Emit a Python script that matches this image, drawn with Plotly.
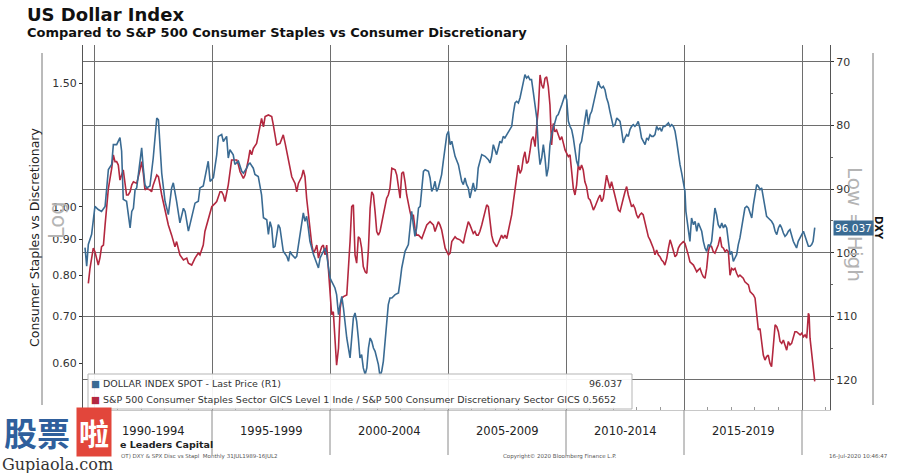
import plotly.graph_objects as go

# ---------------- data ----------------
dxy_years = [
    1989.62, 1989.69, 1989.76, 1989.90, 1990.04, 1990.18, 1990.32, 1990.47, 1990.61, 1990.75,
    1990.82, 1990.96, 1991.10, 1991.17, 1991.24, 1991.38, 1991.53, 1991.60, 1991.67, 1991.74,
    1991.81, 1991.95, 1992.02, 1992.09, 1992.16, 1992.23, 1992.37, 1992.51, 1992.66, 1992.73,
    1992.87, 1993.01, 1993.15, 1993.29, 1993.36, 1993.50, 1993.64, 1993.79, 1993.86, 1994.00,
    1994.14, 1994.28, 1994.42, 1994.49, 1994.63, 1994.77, 1994.84, 1994.92, 1995.06, 1995.20,
    1995.27, 1995.41, 1995.48, 1995.62, 1995.69, 1995.76, 1995.90, 1995.97, 1996.12, 1996.26,
    1996.33, 1996.47, 1996.54, 1996.61, 1996.75, 1996.82, 1996.96, 1997.10, 1997.18, 1997.32,
    1997.39, 1997.46, 1997.53, 1997.60,
    1997.67, 1997.81, 1997.88, 1998.02, 1998.10, 1998.17, 1998.24, 1998.31, 1998.38, 1998.52,
    1998.59, 1998.73, 1998.87, 1998.94, 1999.01, 1999.08, 1999.15, 1999.30, 1999.44, 1999.51,
    1999.58, 1999.72, 1999.79, 1999.86, 1999.93, 2000.00, 2000.07, 2000.21, 2000.28, 2000.36,
    2000.43, 2000.50, 2000.57, 2000.64, 2000.71, 2000.85, 2000.92, 2000.99, 2001.06, 2001.13,
    2001.20, 2001.27, 2001.34, 2001.41, 2001.49, 2001.56, 2001.63, 2001.70, 2001.77, 2001.84,
    2001.91, 2001.98, 2002.05, 2002.12, 2002.19, 2002.26, 2002.33, 2002.47, 2002.54, 2002.62,
    2002.76, 2002.90, 2002.97, 2003.04, 2003.18, 2003.32, 2003.39, 2003.46, 2003.53, 2003.60,
    2003.67, 2003.75, 2003.82, 2003.89, 2003.96, 2004.03, 2004.17, 2004.24, 2004.31, 2004.38,
    2004.45, 2004.52, 2004.59, 2004.66, 2004.73, 2004.80, 2004.88, 2004.95, 2005.02, 2005.09,
    2005.16, 2005.23, 2005.30, 2005.44, 2005.58, 2005.65, 2005.72,
    2005.79, 2005.86, 2005.93, 2006.00, 2006.07, 2006.14, 2006.21, 2006.28, 2006.43, 2006.57,
    2006.71, 2006.78, 2006.85, 2006.92, 2006.99, 2007.06, 2007.13, 2007.20, 2007.27, 2007.34,
    2007.41, 2007.49, 2007.56, 2007.63, 2007.70, 2007.77, 2007.84, 2007.91, 2007.98, 2008.05,
    2008.12, 2008.19, 2008.26, 2008.33, 2008.40, 2008.47, 2008.54, 2008.61, 2008.69, 2008.76,
    2008.83, 2008.90, 2008.97, 2009.04, 2009.11, 2009.18, 2009.25, 2009.32, 2009.39, 2009.46,
    2009.53, 2009.60, 2009.67, 2009.75, 2009.82, 2009.89, 2009.96, 2010.03, 2010.10, 2010.17,
    2010.24, 2010.31, 2010.38, 2010.45, 2010.52, 2010.59, 2010.66, 2010.73, 2010.80, 2010.87,
    2010.95, 2011.02, 2011.09, 2011.16, 2011.23, 2011.30, 2011.37, 2011.44, 2011.51, 2011.58,
    2011.65, 2011.72, 2011.79, 2011.86, 2011.93, 2012.00, 2012.08, 2012.15, 2012.22, 2012.29,
    2012.36, 2012.43, 2012.50, 2012.57, 2012.64, 2012.71, 2012.78, 2012.85, 2012.92, 2012.99,
    2013.06, 2013.13, 2013.20, 2013.27, 2013.35, 2013.42, 2013.49, 2013.56, 2013.63, 2013.70,
    2013.77,
    2013.84, 2013.91, 2013.98, 2014.05, 2014.12, 2014.19, 2014.27, 2014.34, 2014.41, 2014.48,
    2014.55, 2014.62, 2014.69, 2014.76, 2014.83, 2014.90, 2014.97, 2015.04, 2015.08, 2015.14,
    2015.18, 2015.25, 2015.32, 2015.40, 2015.47, 2015.54, 2015.61, 2015.68, 2015.75, 2015.82,
    2015.89, 2015.96, 2016.03, 2016.10, 2016.17, 2016.24, 2016.31, 2016.38, 2016.45, 2016.53,
    2016.60, 2016.67, 2016.74, 2016.81, 2016.88, 2016.95, 2017.02, 2017.09, 2017.16, 2017.23,
    2017.30, 2017.37, 2017.44, 2017.51, 2017.58, 2017.66, 2017.73, 2017.80, 2017.87, 2017.94,
    2018.01, 2018.08, 2018.15, 2018.22, 2018.29, 2018.36, 2018.43, 2018.50, 2018.57, 2018.64,
    2018.71, 2018.79, 2018.86, 2018.93, 2019.00, 2019.07, 2019.14, 2019.21, 2019.28, 2019.35,
    2019.42, 2019.49, 2019.56, 2019.63, 2019.70, 2019.77, 2019.84, 2019.92, 2019.99, 2020.06,
    2020.13, 2020.20, 2020.27, 2020.34, 2020.41, 2020.47, 2020.51, 2020.54,
]
dxy_values = [
    99.2, 102.1, 98.7, 97.1, 92.7, 93.2, 93.5, 92.7, 86.9, 86.1,
    83.0, 83.0, 81.9, 84.0, 91.6, 91.9, 96.1, 93.5, 93.0, 90.1,
    89.8, 86.1, 83.5, 86.7, 89.3, 89.8, 89.5, 85.1, 78.8, 79.1,
    87.5, 91.9, 94.0, 89.8, 89.0, 91.9, 95.3, 93.0, 93.5, 96.6,
    94.5, 92.2, 91.9, 89.8, 89.5, 86.7, 85.6, 88.8, 88.2, 84.6,
    81.7, 81.4, 82.5, 81.7, 85.1, 83.8, 84.6, 86.1, 85.6, 87.2,
    87.5, 86.7, 86.1, 85.9, 86.7, 87.7, 88.0, 90.9, 94.5, 94.8,
    97.1, 95.1, 96.1, 99.2,
    98.98, 95.58, 96.10, 99.77, 100.29, 100.56, 101.34, 99.77, 100.29, 100.82,
    100.56, 97.15, 93.74, 95.05, 94.27, 96.10, 98.20, 100.29, 101.60, 102.39,
    100.82, 99.77, 99.25, 100.29, 102.39, 103.96, 104.49, 105.53, 106.58, 109.73,
    108.16, 106.84, 108.68, 110.78, 113.40, 116.54, 113.40, 110.25, 109.47, 110.78,
    113.40, 116.54, 116.02, 118.11, 119.16, 118.11, 114.97, 113.40, 113.92, 114.97,
    115.49, 116.54, 117.59, 119.42, 118.64, 117.06, 114.44, 108.16, 107.11, 107.11,
    106.58, 106.32, 104.49, 102.39, 99.77, 98.72, 96.10, 93.48, 95.58, 97.41,
    96.10, 92.96, 92.69, 90.34, 87.19, 86.93, 87.19, 88.24, 90.34, 89.81,
    88.76, 90.34, 89.81, 88.76, 87.71, 85.62, 83.52, 81.43, 80.90, 83.00,
    82.47, 83.52, 84.83, 86.14, 88.76, 89.29, 88.24,
    89.29, 89.81, 91.38, 90.34, 89.03, 90.34, 89.81, 86.67, 84.57, 84.83,
    85.36, 85.88, 84.83, 83.00, 83.78, 84.57, 83.52, 82.47, 82.74, 81.69,
    81.95, 81.43, 80.90, 80.64, 80.12, 78.02, 76.45, 76.18, 76.45, 75.66,
    74.35, 73.30, 71.99, 72.52, 72.25, 72.78, 72.78, 74.61, 76.71, 78.81,
    83.52, 86.14, 85.09, 83.00, 85.09, 87.98, 86.67, 83.00, 81.43, 80.38,
    79.33, 78.54, 78.28, 77.23, 76.71, 75.92, 75.14, 75.92, 79.33, 80.12,
    80.64, 81.95, 83.52, 85.62, 86.40, 83.00, 82.47, 80.90, 79.33, 77.50,
    79.85, 78.28, 77.76, 76.45, 75.14, 74.35, 73.04, 73.83, 74.09, 73.83,
    74.35, 75.66, 76.45, 77.76, 78.81, 80.12, 79.85, 78.81, 79.07, 79.33,
    80.90, 82.74, 81.95, 81.43, 81.69, 80.64, 80.12, 79.85, 80.12, 79.85,
    79.33, 80.38, 81.95, 82.47, 83.00, 81.95, 82.21, 81.43, 81.69, 81.69,
    81.43,
    80.12, 80.64, 80.38, 80.90, 80.12, 80.12, 79.85, 79.59, 80.12, 79.85,
    80.12, 80.90, 82.47, 84.57, 86.14, 87.45, 89.03, 90.34, 93.48, 95.05,
    96.10, 98.20, 94.53, 95.58, 95.05, 96.62, 95.31, 96.10, 96.62, 98.20,
    99.25, 99.77, 98.72, 98.98, 98.20, 95.58, 92.96, 94.00, 95.58, 96.10,
    95.31, 96.10, 95.58, 96.10, 98.20, 100.29, 99.77, 101.34, 100.82, 100.29,
    98.72, 97.67, 96.10, 94.53, 92.96, 92.69, 92.96, 93.74, 94.53, 92.43,
    90.86, 89.29, 89.55, 90.07, 89.81, 91.38, 92.96, 94.27, 94.53, 94.79,
    95.05, 95.58, 96.62, 97.15, 96.10, 95.58, 96.10, 96.89, 97.41, 97.15,
    96.62, 96.36, 97.41, 98.20, 98.72, 99.25, 98.20, 97.67, 97.15, 96.62,
    97.41, 98.20, 98.98, 98.98, 98.72, 98.20, 97.15, 96.037,
]

ratio_years = [
    1989.76, 1989.83, 1989.97, 1990.04, 1990.18, 1990.25, 1990.32, 1990.40, 1990.47, 1990.61,
    1990.75, 1990.82, 1990.89, 1990.96, 1991.03, 1991.10, 1991.17, 1991.24, 1991.38, 1991.45,
    1991.53, 1991.60, 1991.67, 1991.81, 1991.95, 1992.02, 1992.09, 1992.16, 1992.23, 1992.37,
    1992.44, 1992.51, 1992.66, 1992.73, 1992.87, 1993.01, 1993.15, 1993.29, 1993.43, 1993.50,
    1993.64, 1993.79, 1993.93, 1994.00, 1994.14, 1994.28, 1994.35, 1994.42, 1994.49, 1994.63,
    1994.70, 1994.84, 1994.99, 1995.13, 1995.20, 1995.34, 1995.41, 1995.48, 1995.55, 1995.69,
    1995.83, 1995.90, 1996.05, 1996.12, 1996.19, 1996.33, 1996.40, 1996.54, 1996.61, 1996.68,
    1996.75, 1996.89, 1996.96, 1997.10, 1997.18, 1997.25, 1997.39, 1997.53, 1997.60,
    1997.74, 1997.88, 1998.02, 1998.10, 1998.24, 1998.38, 1998.52, 1998.59, 1998.66, 1998.80,
    1998.87, 1998.94, 1999.01, 1999.08, 1999.15, 1999.23, 1999.30, 1999.37, 1999.44, 1999.51,
    1999.58, 1999.65, 1999.72, 1999.79, 1999.86, 1999.93, 2000.00, 2000.07, 2000.14, 2000.21,
    2000.28, 2000.36, 2000.43, 2000.50, 2000.57, 2000.71, 2000.78, 2000.85, 2000.92, 2000.99,
    2001.06, 2001.13, 2001.20, 2001.27, 2001.34, 2001.41, 2001.49, 2001.56, 2001.63, 2001.70,
    2001.77, 2001.84, 2001.91, 2001.98, 2002.05, 2002.12, 2002.26, 2002.40, 2002.47, 2002.54,
    2002.62, 2002.76, 2002.83, 2002.90, 2002.97, 2003.04, 2003.11, 2003.18, 2003.25, 2003.39,
    2003.46, 2003.53, 2003.60, 2003.67, 2003.75, 2003.89, 2003.96, 2004.10, 2004.24, 2004.38,
    2004.45, 2004.59, 2004.66, 2004.73, 2004.88, 2005.02, 2005.09, 2005.16, 2005.30, 2005.37,
    2005.51, 2005.65, 2005.72,
    2005.79, 2005.86, 2005.93, 2006.00, 2006.07, 2006.14, 2006.21, 2006.28, 2006.35, 2006.43,
    2006.50, 2006.57, 2006.64, 2006.71, 2006.78, 2006.85, 2006.92, 2006.99, 2007.06, 2007.13,
    2007.20, 2007.27, 2007.34, 2007.41, 2007.49, 2007.56, 2007.63, 2007.70, 2007.77, 2007.84,
    2007.91, 2007.98, 2008.05, 2008.12, 2008.19, 2008.26, 2008.33, 2008.40, 2008.47, 2008.54,
    2008.61, 2008.69, 2008.76, 2008.83, 2008.90, 2008.97, 2009.04, 2009.11, 2009.18, 2009.25,
    2009.32, 2009.39, 2009.46, 2009.53, 2009.60, 2009.67, 2009.75, 2009.82, 2009.89, 2009.96,
    2010.03, 2010.10, 2010.17, 2010.24, 2010.31, 2010.38, 2010.45, 2010.52, 2010.59, 2010.66,
    2010.73, 2010.80, 2010.87, 2010.95, 2011.02, 2011.09, 2011.16, 2011.23, 2011.30, 2011.37,
    2011.44, 2011.51, 2011.58, 2011.65, 2011.72, 2011.79, 2011.86, 2011.93, 2012.00, 2012.08,
    2012.15, 2012.22, 2012.29, 2012.36, 2012.43, 2012.50, 2012.57, 2012.64, 2012.71, 2012.78,
    2012.85, 2012.92, 2012.99, 2013.06, 2013.13, 2013.20, 2013.27, 2013.35, 2013.42, 2013.49,
    2013.56, 2013.63, 2013.70, 2013.77,
    2013.84, 2013.91, 2013.98, 2014.05, 2014.12, 2014.19, 2014.27, 2014.34, 2014.41, 2014.48,
    2014.55, 2014.62, 2014.69, 2014.76, 2014.83, 2014.90, 2014.97, 2015.04, 2015.11, 2015.18,
    2015.25, 2015.32, 2015.40, 2015.47, 2015.54, 2015.61, 2015.68, 2015.75, 2015.82, 2015.89,
    2015.96, 2016.03, 2016.10, 2016.17, 2016.24, 2016.31, 2016.38, 2016.45, 2016.53, 2016.60,
    2016.67, 2016.74, 2016.81, 2016.88, 2016.95, 2017.02, 2017.09, 2017.16, 2017.23, 2017.30,
    2017.37, 2017.44, 2017.51, 2017.58, 2017.66, 2017.73, 2017.80, 2017.87, 2017.94, 2018.01,
    2018.08, 2018.15, 2018.22, 2018.29, 2018.36, 2018.43, 2018.50, 2018.57, 2018.64, 2018.71,
    2018.79, 2018.86, 2018.93, 2019.00, 2019.07, 2019.14, 2019.21, 2019.28, 2019.35, 2019.42,
    2019.49, 2019.56, 2019.63, 2019.70, 2019.77, 2019.84, 2019.92, 2019.99, 2020.06, 2020.13,
    2020.20, 2020.27, 2020.30, 2020.34, 2020.41, 2020.46, 2020.50, 2020.54,
]
ratio_values = [
    0.779, 0.818, 0.874, 0.864, 0.827, 0.846, 0.878, 0.883, 0.943, 1.063,
    1.135, 1.186, 1.160, 1.160, 1.147, 1.092, 1.110, 1.129, 1.040, 1.040,
    1.051, 1.075, 1.086, 1.080, 1.129, 1.160, 1.116, 1.057, 1.063, 1.057,
    1.051, 1.075, 1.110, 1.104, 1.040, 0.985, 0.943, 0.912, 0.878, 0.893,
    0.855, 0.841, 0.846, 0.832, 0.827, 0.846, 0.855, 0.860, 0.855, 0.883,
    0.923, 0.958, 1.001, 1.012, 1.018, 1.051, 1.051, 1.040, 1.018, 1.075,
    1.166, 1.166, 1.166, 1.147, 1.122, 1.098, 1.110, 1.166, 1.205, 1.186,
    1.211, 1.231, 1.266, 1.336, 1.300, 1.344, 1.351, 1.344, 1.307,
    1.225, 1.231, 1.266, 1.231, 1.172, 1.104, 1.080, 1.051, 1.080, 1.104,
    1.129, 1.104, 1.029, 0.975, 0.923, 0.883, 0.860, 0.869, 0.883, 0.846,
    0.864, 0.878, 0.883, 0.855, 0.883, 0.823, 0.766, 0.703, 0.710, 0.658,
    0.596, 0.630, 0.718, 0.742, 0.746, 0.750, 0.809, 0.893, 1.001, 1.007,
    0.855, 0.832, 0.907, 0.902, 0.874, 0.823, 0.809, 0.805, 0.874, 0.996,
    1.051, 1.040, 0.985, 0.923, 0.912, 0.923, 0.975, 1.029, 1.040, 1.063,
    1.135, 1.129, 1.110, 1.069, 1.029, 1.116, 1.122, 1.086, 1.040, 0.985,
    0.964, 0.975, 0.933, 0.912, 0.912, 0.902, 0.917, 0.943, 0.953, 0.943,
    0.923, 0.953, 0.943, 0.928, 0.874, 0.855, 0.860, 0.893, 0.907, 0.902,
    0.898, 0.888, 0.912,
    0.938, 0.953, 0.943, 0.928, 0.917, 0.923, 0.912, 0.912, 0.923, 0.943,
    0.964, 0.985, 1.007, 1.001, 0.953, 0.912, 0.893, 0.883, 0.878, 0.888,
    0.902, 0.912, 0.902, 0.912, 0.902, 0.923, 0.943, 0.975, 1.018, 1.063,
    1.098, 1.147, 1.116, 1.129, 1.172, 1.198, 1.153, 1.160, 1.198, 1.245,
    1.259, 1.218, 1.307, 1.381, 1.540, 1.490, 1.474, 1.523, 1.531, 1.482,
    1.396, 1.225, 1.314, 1.279, 1.286, 1.266, 1.245, 1.259, 1.225, 1.205,
    1.192, 1.179, 1.186, 1.122, 1.063, 1.040, 1.075, 1.147, 1.129, 1.147,
    1.129, 1.086, 1.069, 1.029, 1.023, 1.007, 0.990, 1.001, 1.018, 1.029,
    1.040, 1.018, 1.029, 1.069, 1.110, 1.086, 1.063, 1.086, 1.063, 1.029,
    1.007, 0.990, 0.985, 1.012, 1.029, 1.051, 1.069, 1.040, 1.018, 1.001,
    1.007, 0.996, 0.975, 0.964, 0.975, 0.980, 0.975, 0.948, 0.923, 0.907,
    0.898, 0.888, 0.874, 0.855,
    0.869, 0.855, 0.850, 0.841, 0.836, 0.827, 0.846, 0.874, 0.898, 0.883,
    0.864, 0.850, 0.855, 0.874, 0.883, 0.888, 0.893, 0.888, 0.874, 0.855,
    0.836, 0.832, 0.827, 0.818, 0.809, 0.814, 0.818, 0.805, 0.796, 0.792,
    0.818, 0.864, 0.883, 0.878, 0.864, 0.860, 0.874, 0.883, 0.907, 0.878,
    0.874, 0.864, 0.869, 0.864, 0.800, 0.818, 0.814, 0.818, 0.805, 0.796,
    0.800, 0.796, 0.792, 0.783, 0.779, 0.775, 0.758, 0.754, 0.750, 0.742,
    0.702, 0.669, 0.672, 0.637, 0.616, 0.606, 0.613, 0.616, 0.600, 0.593,
    0.630, 0.680, 0.676, 0.665, 0.644, 0.640, 0.647, 0.637, 0.626, 0.644,
    0.637, 0.640, 0.651, 0.665, 0.665, 0.662, 0.658, 0.662, 0.654, 0.658,
    0.651, 0.706, 0.702, 0.651, 0.616, 0.596, 0.577, 0.5652,
]

left_tick_values = [0.60, 0.70, 0.80, 0.90, 1.00, 1.50]
left_tick_labels = ["0.60", "0.70", "0.80", "0.90", "1.00", "1.50"]
right_tick_values = [70, 80, 90, 100, 110, 120]
period_labels = ["1990-1994", "1995-1999", "2000-2004", "2005-2009", "2010-2014", "2015-2019"]
period_starts = [1990, 1995, 2000, 2005, 2010, 2015]
period_bounds = [1990, 1995, 2000, 2005, 2010, 2015, 2020]

dxy_name = "DOLLAR INDEX SPOT - Last Price (R1)"
ratio_name = ("S&P 500 Consumer Staples Sector GICS Level 1 Inde / "
              "S&P 500 Consumer Discretionary Sector GICS")

# ---------------- styling / geometry ----------------
W, H = 908, 473
L, R, T, B = 83, 830, 45, 410          # plot area in pixels
BLUE = "#3a6b93"
RED = "#b3283f"
GRID = "#6e6e6e"
FONT = "DejaVu Sans"


def px(x):
    return (x - L) / (R - L)


def py(y):
    return (B - y) / (B - T)


def note(text, x, y, size, color="#222", family=FONT, xanchor="center", angle=0, **kw):
    return dict(text=text, x=px(x), y=py(y), xref="paper", yref="paper", xanchor=xanchor,
                yanchor="middle", textangle=angle, showarrow=False,
                font=dict(size=size, color=color, family=family), **kw)


fig = go.Figure()
fig.add_trace(go.Scatter(x=ratio_years, y=ratio_values, mode="lines", name=ratio_name,
                         line=dict(color=RED, width=1.6), yaxis="y", showlegend=False))
fig.add_trace(go.Scatter(x=dxy_years, y=dxy_values, mode="lines", name=dxy_name,
                         line=dict(color=BLUE, width=1.6), yaxis="y2", showlegend=False))

fig.update_layout(
    width=W, height=H,
    margin=dict(l=L, r=W - R, t=T, b=H - B),
    paper_bgcolor="white", plot_bgcolor="white",
    font=dict(family=FONT, color="#222"),
    xaxis=dict(range=[1989.534, 2021.186], tickmode="linear", tick0=1990, dtick=5,
               showticklabels=False, ticks="", showgrid=True, gridcolor=GRID, gridwidth=1,
               zeroline=False, showline=True, linecolor="#c8c8c8",
               minor=dict(tick0=1990, dtick=1, ticks="inside", ticklen=3, tickcolor="#999")),
    yaxis=dict(type="log", range=[-0.2884, 0.2301], tickvals=left_tick_values,
               ticktext=left_tick_labels, ticks="outside", ticklen=3, tickcolor="#333",
               showgrid=False, zeroline=False, showline=True, linecolor="#555",
               tickfont=dict(size=11, color="#333")),
    yaxis2=dict(overlaying="y", side="right", range=[124.72, 67.33], tickvals=right_tick_values,
                ticks="outside", ticklen=3, tickcolor="#333", showgrid=True, gridcolor=GRID,
                gridwidth=1, zeroline=False, showline=True, linecolor="#555",
                tickfont=dict(size=11, color="#333"),
                minor=dict(tickvals=[75, 85, 95, 105, 115], ticks="outside", ticklen=2,
                           tickcolor="#666")),
)

shapes = []
for yr in period_bounds:
    shapes.append(dict(type="line", xref="x", yref="paper", x0=yr, x1=yr,
                       y0=py(455), y1=0, line=dict(color="#8a8a8a", width=1)))
shapes.append(dict(type="line", xref="paper", yref="paper", x0=px(42), x1=px(42),
                   y0=py(405), y1=py(53), line=dict(color="#777", width=1)))
shapes.append(dict(type="line", xref="paper", yref="paper", x0=px(873), x1=px(873),
                   y0=py(405), y1=py(53), line=dict(color="#777", width=1)))
shapes.append(dict(type="rect", xref="paper", yref="paper", x0=px(88), x1=px(632),
                   y0=py(409), y1=py(374), fillcolor="rgba(255,255,255,0.92)",
                   line=dict(color="#b5b5b5", width=1), layer="above"))
fig.update_layout(shapes=shapes)

ann = []
ann.append(note("<b>US Dollar Index</b>", 25, 15, 18, "#111", xanchor="left"))
ann.append(note("<b>Compared to S&P 500 Consumer Staples vs Consumer Discretionary</b>",
                25, 33, 13, "#111", xanchor="left"))
ann.append(note("Consumer Staples vs Discretionary", 35, 238, 12.5, angle=-90))
ann.append(note("Log", 57, 220, 21, "#b4b4b4", angle=-90))
ann.append(note("Low = High", 855, 224, 20, "#b4b4b4", angle=90))
ann.append(note("<b>DXY</b>", 879, 228, 10, "#111", angle=90))
# last-value tags
ann.append(dict(text=f"{dxy_values[-1]:.3f}", x=1.0, y=dxy_values[-1], xref="paper", yref="y2",
                xanchor="left", yanchor="middle", xshift=3, showarrow=False, bgcolor=BLUE,
                borderpad=1, font=dict(size=10.5, color="white", family=FONT)))
ann.append(dict(text=f"{ratio_values[-1]:.4f}", x=0.0, y=ratio_values[-1], xref="paper",
                yref="y", xanchor="right", yanchor="middle", xshift=-1, showarrow=False,
                bgcolor=RED, borderpad=1, font=dict(size=10.5, color="white", family=FONT)))
# legend content
ann.append(note(f"<span style='color:{BLUE}'>■</span> {dxy_name}", 89, 383, 9.5, "#333",
                xanchor="left"))
ann.append(note(f"{dxy_values[-1]:.3f}", 624, 383, 9.5, "#333", xanchor="right"))
ann.append(note(f"<span style='color:{RED}'>■</span> {ratio_name} {ratio_values[-1]:.4f}",
                89, 399, 9.5, "#333", xanchor="left"))
# period labels
for lab, start in zip(period_labels, period_starts):
    ann.append(dict(text=lab, x=start + 2.5, y=py(431), xref="x", yref="paper",
                    xanchor="center", yanchor="middle", showarrow=False,
                    font=dict(size=11.5, color="#222", family=FONT)))
# footer
ann.append(note("<b>e Leaders Capital</b>", 118, 444, 9.5, "#222", xanchor="left"))
ann.append(note("OT) DXY & SPX Disc vs Stapl  Monthly 31JUL1989-16JUL2", 119, 456, 5.5,
                "#555", xanchor="left"))
ann.append(note("Copyright© 2020 Bloomberg Finance L.P.", 560, 456, 5.5, "#555"))
ann.append(note("16-Jul-2020 10:46:47", 858, 456, 5.5, "#555"))
# watermark
ann.append(note("<b>股票</b>", 2, 432, 33, "#2f5f9c", family="Noto Sans CJK SC",
                xanchor="left"))
ann.append(note("<b>啦</b>", 94, 432, 30, "white", family="Noto Sans CJK SC",
                bgcolor="#e2463b", borderpad=2))
ann.append(note("Gupiaola.com", 0, 464, 16, "#333", family="DejaVu Serif", xanchor="left"))
fig.update_layout(annotations=ann)

fig.write_html("out.html")
